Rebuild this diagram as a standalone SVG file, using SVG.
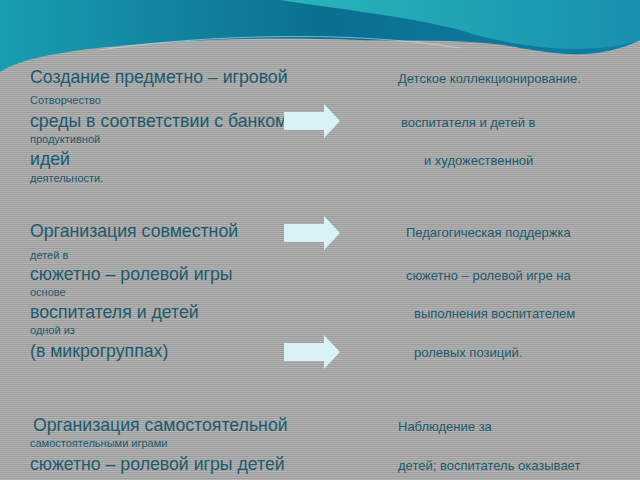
<svg xmlns="http://www.w3.org/2000/svg" width="640" height="480" viewBox="0 0 640 480">
<defs>
<pattern id="st" width="4" height="2" patternUnits="userSpaceOnUse"><rect width="4" height="2" fill="#b4b4b4"/><rect width="4" height="1" fill="#9c9c9c"/></pattern>
<linearGradient id="wv" x1="0" y1="0" x2="1" y2="0"><stop offset="0" stop-color="#1a9db0"/><stop offset="0.5" stop-color="#0b6f92"/><stop offset="1" stop-color="#0f7fa3"/></linearGradient>
<linearGradient id="wv2" x1="0" y1="0" x2="1" y2="0"><stop offset="0" stop-color="#27b7b8"/><stop offset="1" stop-color="#1a8fb0"/></linearGradient>
<style>text{font-family:"Liberation Sans",Arial,sans-serif;fill:#1c5a6c}.b{font-size:17.7px}.s{font-size:11px}.r{font-size:13px}</style>
<path id="arr" d="M0,8 H40 V0 L56,17 L40,34 V26 H0 Z" fill="#d8f2f8"/>
</defs>
<rect width="640" height="480" fill="url(#st)"/>
<g id="header">
<path d="M0,0 H640 V40 C600,60 560,55 520,48 C470,38 420,42 360,40 C260,36 160,40 80,50 C40,56 15,62 0,72 Z" fill="url(#wv)"/>
<path d="M280,0 H640 V40 C600,55 520,50 460,30 C400,15 330,8 280,0 Z" fill="url(#wv2)"/>
<path d="M100,50 C200,35 350,30 460,48" fill="none" stroke="#cfe3ea" stroke-width="1" opacity="0.6"/>
</g>
<g id="block1">
<text class="b" x="30" y="83">Создание предметно – игровой</text>
<text class="s" x="30" y="104">Сотворчество</text>
<text class="b" x="30" y="127">среды в соответствии с банком</text>
<text class="s" x="30" y="143">продуктивной</text>
<text class="b" x="30" y="165">идей</text>
<text class="s" x="30" y="182">деятельности.</text>
<text class="r" x="398" y="83">Детское коллекционирование.</text>
<text class="r" x="401" y="127">воспитателя и детей в</text>
<text class="r" x="424" y="165">и художественной</text>
</g>
<g id="block2">
<text class="b" x="30" y="237">Организация совместной</text>
<text class="s" x="30" y="259">детей в</text>
<text class="b" x="30" y="280">сюжетно – ролевой игры</text>
<text class="s" x="30" y="296">основе</text>
<text class="b" x="30" y="318">воспитателя и детей</text>
<text class="s" x="30" y="334">одной из</text>
<text class="b" x="30" y="357">(в микрогруппах)</text>
<text class="r" x="406" y="237">Педагогическая поддержка</text>
<text class="r" x="406" y="280">сюжетно – ролевой игре на</text>
<text class="r" x="414" y="318">выполнения воспитателем</text>
<text class="r" x="414" y="357">ролевых позиций.</text>
</g>
<g id="block3">
<text class="b" x="33" y="431">Организация самостоятельной</text>
<text class="s" x="30" y="447">самостоятельными играми</text>
<text class="b" x="30" y="470">сюжетно – ролевой игры детей</text>
<text class="r" x="398" y="431">Наблюдение за</text>
<text class="r" x="398" y="470">детей; воспитатель оказывает</text>
</g>
<g id="connectors">
<use href="#arr" x="284" y="104"/>
<use href="#arr" x="284" y="216"/>
<use href="#arr" x="284" y="335"/>
</g>
</svg>
